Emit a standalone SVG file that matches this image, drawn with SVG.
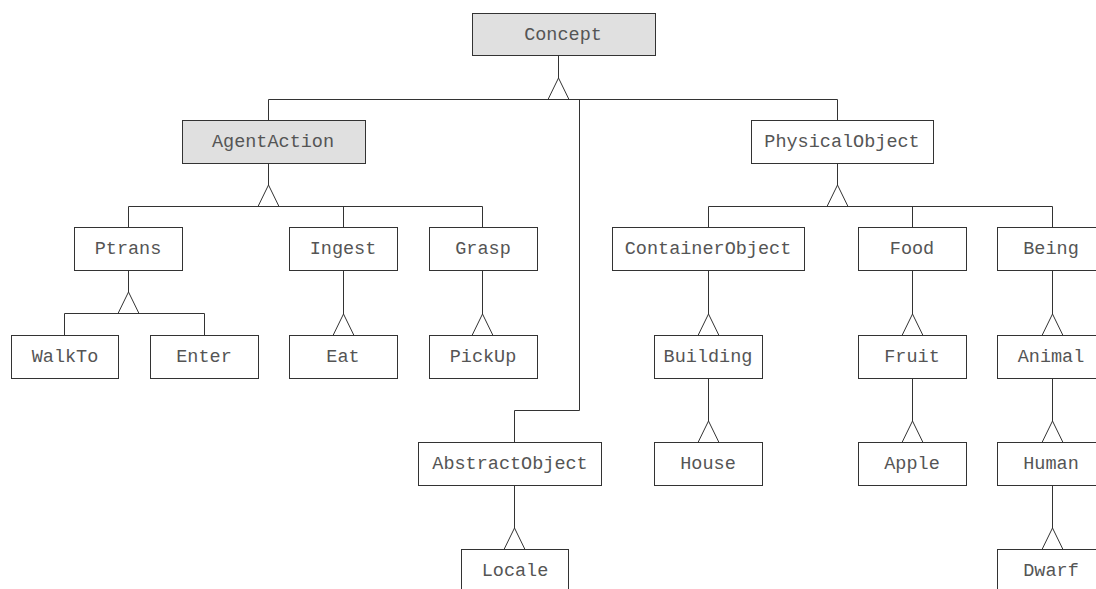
<svg xmlns="http://www.w3.org/2000/svg" width="1096" height="589" viewBox="0 0 1096 589">
  <style>
    .box { fill: #ffffff; stroke: #333333; stroke-width: 1; }
    .box.abstract { fill: #e0e0e0; }
    .label { font-family: "Liberation Mono", "Courier New", monospace; font-size: 18.5px; fill: #555555; text-anchor: middle; }
    .edge { fill: none; stroke: #333333; stroke-width: 1; }
    .tri { fill: #ffffff; stroke: #333333; stroke-width: 1; stroke-linejoin: miter; }
  </style>

  <rect width="1096" height="589" fill="#ffffff"/>

  <!-- generalization connectors -->
  <g id="connectors">
    <!-- Concept -->
    <path class="edge" d="M558.5 55.5 V78 M268.5 99.5 H837.5 M268.5 99.5 V120.5 M837.5 99.5 V120.5 M579.5 99.5 V410.5 H514.5 V442.5"/>
    <polygon class="tri" points="558.5,78 548,99.5 569,99.5"/>
    <!-- AgentAction -->
    <path class="edge" d="M268.5 163.5 V185 M128.5 206.5 H482.5 M128.5 206.5 V227.5 M343.5 206.5 V227.5 M482.5 206.5 V227.5"/>
    <polygon class="tri" points="268.5,185 258,206.5 279,206.5"/>
    <!-- PhysicalObject -->
    <path class="edge" d="M837.5 163.5 V185 M708.5 206.5 H1052.5 M708.5 206.5 V227.5 M912.5 206.5 V227.5 M1052.5 206.5 V227.5"/>
    <polygon class="tri" points="837.5,185 827,206.5 848,206.5"/>
    <!-- Ptrans -->
    <path class="edge" d="M128.5 270.5 V292 M64.5 313.5 H204.5 M64.5 313.5 V335.5 M204.5 313.5 V335.5"/>
    <polygon class="tri" points="128.5,292 118,313.5 139,313.5"/>
    <!-- single-child links -->
    <path class="edge" d="M343.5 270.5 V314 M482.5 270.5 V314 M708.5 270.5 V314 M912.5 270.5 V314 M1052.5 270.5 V314 M708.5 378.5 V421 M912.5 378.5 V421 M1052.5 378.5 V421 M514.5 485.5 V528 M1052.5 485.5 V528"/>
    <polygon class="tri" points="343.5,314 333,335.5 354,335.5"/>
    <polygon class="tri" points="482.5,314 472,335.5 493,335.5"/>
    <polygon class="tri" points="708.5,314 698,335.5 719,335.5"/>
    <polygon class="tri" points="912.5,314 902,335.5 923,335.5"/>
    <polygon class="tri" points="1052.5,314 1042,335.5 1063,335.5"/>
    <polygon class="tri" points="708.5,421 698,442.5 719,442.5"/>
    <polygon class="tri" points="912.5,421 902,442.5 923,442.5"/>
    <polygon class="tri" points="1052.5,421 1042,442.5 1063,442.5"/>
    <polygon class="tri" points="514.5,528 504,549.5 525,549.5"/>
    <polygon class="tri" points="1052.5,528 1042,549.5 1063,549.5"/>
  </g>

  <!-- classes -->
  <g id="Concept"><rect class="box abstract" x="472.5" y="13.5" width="183" height="42"/><text class="label" x="563" y="40">Concept</text></g>
  <g id="AgentAction"><rect class="box abstract" x="182.5" y="120.5" width="183" height="43"/><text class="label" x="273" y="147">AgentAction</text></g>
  <g id="PhysicalObject"><rect class="box" x="751.5" y="120.5" width="182" height="43"/><text class="label" x="842" y="147">PhysicalObject</text></g>

  <g id="Ptrans"><rect class="box" x="74.5" y="227.5" width="108" height="43"/><text class="label" x="128" y="254">Ptrans</text></g>
  <g id="Ingest"><rect class="box" x="289.5" y="227.5" width="108" height="43"/><text class="label" x="343" y="254">Ingest</text></g>
  <g id="Grasp"><rect class="box" x="429.5" y="227.5" width="108" height="43"/><text class="label" x="483" y="254">Grasp</text></g>
  <g id="ContainerObject"><rect class="box" x="612.5" y="227.5" width="192" height="43"/><text class="label" x="708" y="254">ContainerObject</text></g>
  <g id="Food"><rect class="box" x="858.5" y="227.5" width="108" height="43"/><text class="label" x="912" y="254">Food</text></g>
  <g id="Being"><rect class="box" x="997.5" y="227.5" width="108" height="43"/><text class="label" x="1051" y="254">Being</text></g>

  <g id="WalkTo"><rect class="box" x="11.5" y="335.5" width="107" height="43"/><text class="label" x="65" y="362">WalkTo</text></g>
  <g id="Enter"><rect class="box" x="150.5" y="335.5" width="108" height="43"/><text class="label" x="204" y="362">Enter</text></g>
  <g id="Eat"><rect class="box" x="289.5" y="335.5" width="108" height="43"/><text class="label" x="343" y="362">Eat</text></g>
  <g id="PickUp"><rect class="box" x="429.5" y="335.5" width="108" height="43"/><text class="label" x="483" y="362">PickUp</text></g>
  <g id="Building"><rect class="box" x="654.5" y="335.5" width="108" height="43"/><text class="label" x="708" y="362">Building</text></g>
  <g id="Fruit"><rect class="box" x="858.5" y="335.5" width="108" height="43"/><text class="label" x="912" y="362">Fruit</text></g>
  <g id="Animal"><rect class="box" x="997.5" y="335.5" width="108" height="43"/><text class="label" x="1051" y="362">Animal</text></g>

  <g id="AbstractObject"><rect class="box" x="418.5" y="442.5" width="183" height="43"/><text class="label" x="510" y="469">AbstractObject</text></g>
  <g id="House"><rect class="box" x="654.5" y="442.5" width="108" height="43"/><text class="label" x="708" y="469">House</text></g>
  <g id="Apple"><rect class="box" x="858.5" y="442.5" width="108" height="43"/><text class="label" x="912" y="469">Apple</text></g>
  <g id="Human"><rect class="box" x="997.5" y="442.5" width="108" height="43"/><text class="label" x="1051" y="469">Human</text></g>

  <g id="Locale"><rect class="box" x="461.5" y="549.5" width="107" height="43"/><text class="label" x="515" y="576">Locale</text></g>
  <g id="Dwarf"><rect class="box" x="997.5" y="549.5" width="108" height="43"/><text class="label" x="1051" y="576">Dwarf</text></g>
</svg>
